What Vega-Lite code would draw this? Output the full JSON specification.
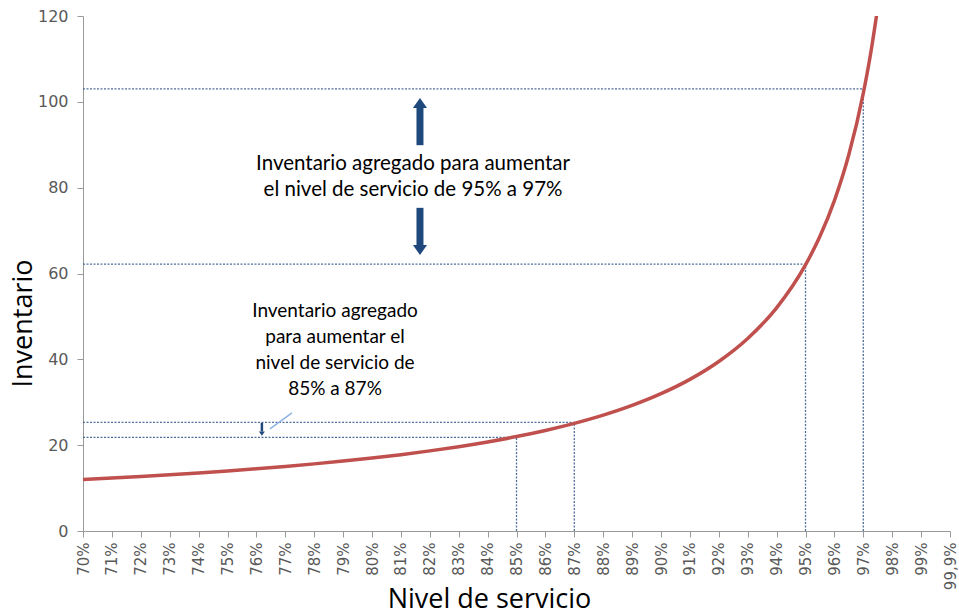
{
  "$schema": "https://vega.github.io/schema/vega-lite/v6.json",
  "autosize": {"type": "none"},
  "padding": {"left": 83, "top": 16, "right": 9, "bottom": 83},
  "width": 867,
  "height": 515,
  "background": "white",
  "config": {"view": {"stroke": null}},
  "datasets": {
    "curve": [
      {"nivel": 70, "inv": 12.0}, {"nivel": 71, "inv": 12.34}, {"nivel": 72, "inv": 12.71},
      {"nivel": 73, "inv": 13.11}, {"nivel": 74, "inv": 13.54}, {"nivel": 75, "inv": 14.0},
      {"nivel": 76, "inv": 14.5}, {"nivel": 77, "inv": 15.04}, {"nivel": 78, "inv": 15.64},
      {"nivel": 79, "inv": 16.29}, {"nivel": 80, "inv": 17.0}, {"nivel": 81, "inv": 17.79},
      {"nivel": 82, "inv": 18.67}, {"nivel": 83, "inv": 19.65}, {"nivel": 84, "inv": 20.75},
      {"nivel": 85, "inv": 22.0}, {"nivel": 86, "inv": 23.43}, {"nivel": 87, "inv": 25.08},
      {"nivel": 88, "inv": 27.0}, {"nivel": 89, "inv": 29.27}, {"nivel": 90, "inv": 32.0},
      {"nivel": 91, "inv": 35.33}, {"nivel": 92, "inv": 39.5}, {"nivel": 93, "inv": 44.86},
      {"nivel": 94, "inv": 52.0}, {"nivel": 95, "inv": 62.0}, {"nivel": 95.5, "inv": 68.67},
      {"nivel": 96, "inv": 77.0}, {"nivel": 96.5, "inv": 87.71}, {"nivel": 97, "inv": 102.0},
      {"nivel": 97.25, "inv": 111.09}, {"nivel": 97.5, "inv": 122.0}
    ],
    "guides": [
      {"x": 70, "x2": 85, "y": 21.8, "y2": 21.8},
      {"x": 70, "x2": 87, "y": 25.3, "y2": 25.3},
      {"x": 70, "x2": 95, "y": 62.2, "y2": 62.2},
      {"x": 70, "x2": 97, "y": 103, "y2": 103},
      {"x": 85, "x2": 85, "y": 0, "y2": 21.8},
      {"x": 87, "x2": 87, "y": 0, "y2": 25.3},
      {"x": 95, "x2": 95, "y": 0, "y2": 62.2},
      {"x": 97, "x2": 97, "y": 0, "y2": 103}
    ],
    "bigShafts": [
      {"x": 81.66, "y": 89.9, "y2": 99.3},
      {"x": 81.66, "y": 75.3, "y2": 66.3}
    ],
    "bigHeads": [
      {"x": 81.66, "y": 99.73, "dir": "up"},
      {"x": 81.66, "y": 65.47, "dir": "down"}
    ],
    "smallShafts": [{"x": 76.19, "y": 25.2, "y2": 23.2}],
    "smallHeads": [{"x": 76.19, "y": 22.7, "dir": "down"}],
    "leader": [{"x": 76.47, "x2": 77.23, "y": 23.8, "y2": 27.5}],
    "bigLabels": [
      {"x": 81.42, "y": 85.5, "t": "Inventario agregado para aumentar"},
      {"x": 81.42, "y": 79.4, "t": "el nivel de servicio de 95% a 97%"}
    ],
    "smallLabels": [
      {"x": 78.72, "y": 51.3, "t": "Inventario agregado"},
      {"x": 78.72, "y": 45.2, "t": "para aumentar el"},
      {"x": 78.72, "y": 39.1, "t": "nivel de servicio de"},
      {"x": 78.72, "y": 33.1, "t": "85% a 87%"}
    ]
  },
  "layer": [
    {
      "data": {"name": "guides"},
      "mark": {"type": "rule", "color": "#3d5f94", "strokeWidth": 1.3, "strokeDash": [2, 1.5], "opacity": 0.9},
      "encoding": {
        "x": {"field": "x", "type": "quantitative", "scale": {"domain": [70, 100], "nice": false, "zero": false},
          "axis": {
            "values": [70,71,72,73,74,75,76,77,78,79,80,81,82,83,84,85,86,87,88,89,90,91,92,93,94,95,96,97,98,99,100],
            "tickCount": 40,
            "labelExpr": "datum.value == 100 ? '99,9%' : datum.value + '%'",
            "labelAngle": -90, "labelFont": "DejaVu Sans", "labelFontSize": 15, "labelColor": "#595959",
            "labelPadding": 5, "tickSize": 6, "tickColor": "#9a9a9a", "domainColor": "#9a9a9a", "grid": false,
            "labelOverlap": false, "labelBound": false, "labelFlush": false,
            "title": "Nivel de servicio", "titleFont": "Open Sans", "titleFontSize": 27, "titleFontWeight": "normal",
            "titleColor": "#000000", "titleY": 76, "titleBaseline": "alphabetic", "titleX": 406
          }},
        "x2": {"field": "x2"},
        "y": {"field": "y", "type": "quantitative", "scale": {"domain": [0, 120], "nice": false},
          "axis": {
            "values": [0, 20, 40, 60, 80, 100, 120], "labelFont": "DejaVu Sans", "labelFontSize": 16,
            "labelColor": "#595959", "labelPadding": 9, "tickSize": 6, "tickColor": "#9a9a9a",
            "domainColor": "#9a9a9a", "grid": false,
            "title": "Inventario", "titleFont": "Open Sans", "titleFontSize": 27, "titleFontWeight": "normal",
            "titleColor": "#000000", "titleX": -52, "titleY": 307, "titleBaseline": "alphabetic", "titleAlign": "center", "titleAngle": -90
          }},
        "y2": {"field": "y2"}
      }
    },
    {
      "data": {"name": "curve"},
      "mark": {"type": "line", "color": "#c0504d", "strokeWidth": 3.5, "interpolate": "monotone", "clip": true},
      "encoding": {
        "x": {"field": "nivel", "type": "quantitative"},
        "y": {"field": "inv", "type": "quantitative"}
      }
    },
    {
      "data": {"name": "bigShafts"},
      "mark": {"type": "rule", "color": "#1f497d", "strokeWidth": 7},
      "encoding": {
        "x": {"field": "x", "type": "quantitative"},
        "y": {"field": "y", "type": "quantitative"},
        "y2": {"field": "y2"}
      }
    },
    {
      "data": {"name": "bigHeads"},
      "mark": {"type": "point", "filled": true, "color": "#1f497d", "opacity": 1, "size": 200, "strokeWidth": 0},
      "encoding": {
        "x": {"field": "x", "type": "quantitative"},
        "y": {"field": "y", "type": "quantitative"},
        "shape": {"field": "dir", "type": "nominal", "legend": null,
          "scale": {"domain": ["up", "down"], "range": ["M-1,0.7L0,-0.7L1,0.7Z", "M-1,-0.7L0,0.7L1,-0.7Z"]}}
      }
    },
    {
      "data": {"name": "smallShafts"},
      "mark": {"type": "rule", "color": "#1f497d", "strokeWidth": 2.5},
      "encoding": {
        "x": {"field": "x", "type": "quantitative"},
        "y": {"field": "y", "type": "quantitative"},
        "y2": {"field": "y2"}
      }
    },
    {
      "data": {"name": "smallHeads"},
      "mark": {"type": "point", "filled": true, "color": "#1f497d", "opacity": 1, "size": 36, "strokeWidth": 0},
      "encoding": {
        "x": {"field": "x", "type": "quantitative"},
        "y": {"field": "y", "type": "quantitative"},
        "shape": {"field": "dir", "type": "nominal", "legend": null,
          "scale": {"domain": ["up", "down"], "range": ["M-1,0.7L0,-0.7L1,0.7Z", "M-1,-0.7L0,0.7L1,-0.7Z"]}}
      }
    },
    {
      "data": {"name": "leader"},
      "mark": {"type": "rule", "color": "#8db3e2", "strokeWidth": 1.5},
      "encoding": {
        "x": {"field": "x", "type": "quantitative"},
        "x2": {"field": "x2"},
        "y": {"field": "y", "type": "quantitative"},
        "y2": {"field": "y2"}
      }
    },
    {
      "data": {"name": "bigLabels"},
      "mark": {"type": "text", "font": "Lato", "fontSize": 20.5, "color": "#000000", "align": "center", "baseline": "middle"},
      "encoding": {
        "x": {"field": "x", "type": "quantitative"},
        "y": {"field": "y", "type": "quantitative"},
        "text": {"field": "t"}
      }
    },
    {
      "data": {"name": "smallLabels"},
      "mark": {"type": "text", "font": "Lato", "fontSize": 19, "color": "#000000", "align": "center", "baseline": "middle"},
      "encoding": {
        "x": {"field": "x", "type": "quantitative"},
        "y": {"field": "y", "type": "quantitative"},
        "text": {"field": "t"}
      }
    }
  ]
}
